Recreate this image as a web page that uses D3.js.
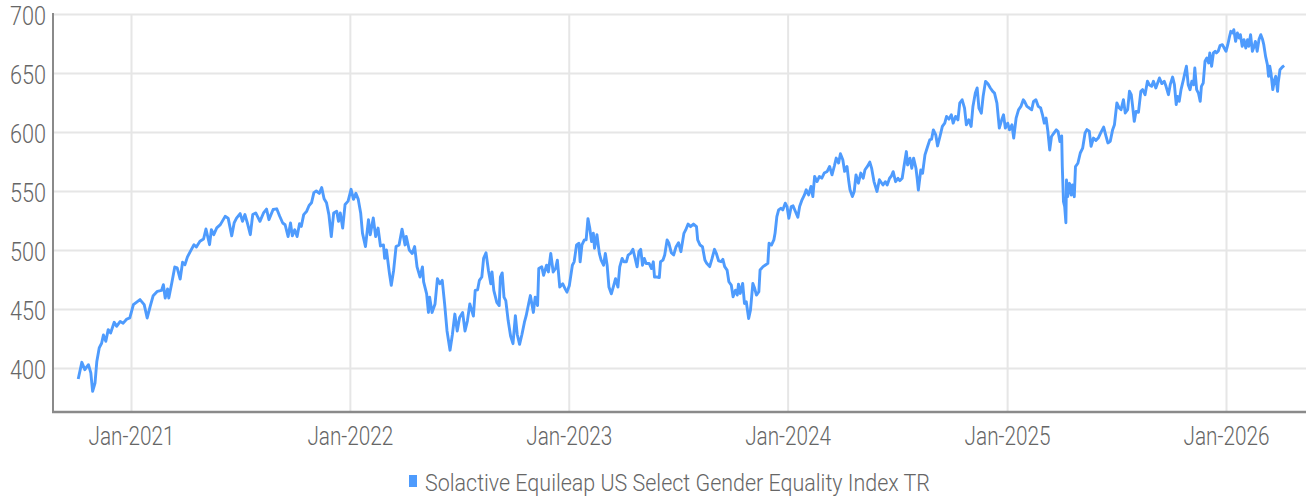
<html>
<head>
<title>Solactive Equileap US Select Gender Equality Index TR</title>
<script src="https://d3js.org/d3.v7.min.js"></script>
<style>
    body { margin: 0; background: #fff; }
    .lbl { font-family: Roboto, "DejaVu Sans", sans-serif; font-weight: 300; fill: #666; }
    .gridlines line { stroke: #e6e6e6; stroke-width: 2; }
    .gridlines .domain { stroke: none; }
</style>
</head>
<body>
<svg id="chart" width="1306" height="497"></svg>
<script>
// values, [date, index level]
const s2020 = [["2020-10-05",390.7],["2020-10-11",404.8],["2020-10-16",398.6],["2020-10-22",402.8],["2020-10-26",395.8],["2020-10-29",380.2],["2020-11-02",387.3],["2020-11-05",405.6],["2020-11-09",417],["2020-11-13",421],["2020-11-16",428],["2020-11-20",422.6],["2020-11-24",432.5],["2020-11-28",429.7],["2020-12-04",438.7],["2020-12-08",435.3],["2020-12-14",439.5],["2020-12-19",438],["2020-12-25",441.5],["2020-12-30",442.4]];

const s2021 = [["2021-01-05",453.7],["2021-01-10",455.7],["2021-01-16",458],["2021-01-23",453.7],["2021-01-28",442.4],["2021-02-02",452.3],["2021-02-07",461.3],["2021-02-14",465],["2021-02-21",465.8],["2021-02-24",470.6],["2021-02-27",459.3],["2021-03-03",467],["2021-03-05",459.3],["2021-03-10",472],["2021-03-15",485.6],["2021-03-19",484.8],["2021-03-24",475.4],["2021-03-28",489.6],["2021-04-01",487.6],["2021-04-05",494],["2021-04-10",498.9],["2021-04-16",504.5],["2021-04-20",502.5],["2021-04-26",507.4],["2021-05-02",509.3],["2021-05-06",517.8],["2021-05-12",504.5],["2021-05-15",517.2],["2021-05-19",513],["2021-05-24",518.7],["2021-05-30",521.5],["2021-06-07",528.5],["2021-06-12",527],["2021-06-18",512],["2021-06-22",522.9],["2021-06-26",527],["2021-07-02",530.8],["2021-07-06",524.3],["2021-07-10",530],["2021-07-14",523],["2021-07-19",513],["2021-07-23",530],["2021-07-28",531.4],["2021-08-04",524.3],["2021-08-10",531.4],["2021-08-15",534.7],["2021-08-19",525.7],["2021-08-26",534.3],["2021-09-01",534.9],["2021-09-06",528.6],["2021-09-11",522.9],["2021-09-15",521.4],["2021-09-20",511.4],["2021-09-24",522.9],["2021-09-27",512],["2021-10-01",517.1],["2021-10-05",511.4],["2021-10-09",522.3],["2021-10-12",520],["2021-10-16",530],["2021-10-21",532.9],["2021-10-25",537.7],["2021-10-29",540],["2021-11-02",548.6],["2021-11-06",550],["2021-11-11",548],["2021-11-15",552.9],["2021-11-19",543.4],["2021-11-23",540],["2021-11-27",530],["2021-12-01",511.4],["2021-12-05",531.4],["2021-12-10",532.9],["2021-12-13",524.3],["2021-12-16",531.4],["2021-12-20",518.6],["2021-12-24",538.6],["2021-12-29",541.4]];

const s2022 = [["2022-01-03",551.4],["2022-01-07",542.9],["2022-01-11",548],["2022-01-15",542.9],["2022-01-19",531.4],["2022-01-22",514.3],["2022-01-27",502.9],["2022-02-01",525.7],["2022-02-04",512.9],["2022-02-09",527.1],["2022-02-13",511.4],["2022-02-17",518.6],["2022-02-21",503.4],["2022-02-26",504.3],["2022-02-28",492.9],["2022-03-03",500],["2022-03-08",480],["2022-03-11",470],["2022-03-15",482.9],["2022-03-19",502.9],["2022-03-24",504.3],["2022-03-29",517.7],["2022-04-03",504.3],["2022-04-05",511.4],["2022-04-10",500],["2022-04-15",497.1],["2022-04-19",502.9],["2022-04-23",485.7],["2022-04-28",477.1],["2022-05-02",485.7],["2022-05-04",472.9],["2022-05-09",462.9],["2022-05-12",447.1],["2022-05-14",460],["2022-05-18",447.1],["2022-05-23",454.3],["2022-05-27",475.7],["2022-05-31",471.4],["2022-06-04",474.3],["2022-06-08",454.3],["2022-06-12",431.4],["2022-06-17",415.1],["2022-06-21",428.6],["2022-06-25",445.7],["2022-06-29",431.4],["2022-07-03",442.9],["2022-07-08",447.1],["2022-07-12",431.4],["2022-07-16",440],["2022-07-20",454.3],["2022-07-26",444],["2022-07-29",465.7],["2022-08-02",466.3],["2022-08-05",474.3],["2022-08-09",477.1],["2022-08-12",492.9],["2022-08-16",497.7],["2022-08-20",482.9],["2022-08-24",471.4],["2022-08-26",481.4],["2022-08-29",465.7],["2022-09-03",455.7],["2022-09-07",452.9],["2022-09-09",477.1],["2022-09-12",480.6],["2022-09-15",460],["2022-09-18",457.1],["2022-09-22",440],["2022-09-26",427.1],["2022-09-30",420.6],["2022-10-04",444.3],["2022-10-07",428.6],["2022-10-11",420],["2022-10-15",428.6],["2022-10-19",438.6],["2022-10-22",444.3],["2022-10-26",454.3],["2022-10-29",461.4],["2022-11-03",447.1],["2022-11-06",460],["2022-11-10",452.9],["2022-11-12",484.3],["2022-11-17",485.7],["2022-11-20",478.6],["2022-11-25",487.1],["2022-11-28",481.4],["2022-12-02",497.1],["2022-12-06",481.4],["2022-12-10",484.3],["2022-12-13",491.4],["2022-12-17",468.6],["2022-12-22",471.4],["2022-12-26",467.1],["2022-12-29",464.3]];

const s2023 = [["2023-01-02",470],["2023-01-07",487.1],["2023-01-10",490],["2023-01-14",504.3],["2023-01-18",505.7],["2023-01-20",490],["2023-01-23",504.3],["2023-01-27",508.6],["2023-01-30",508.6],["2023-02-02",526.6],["2023-02-05",518.6],["2023-02-08",507.1],["2023-02-11",514.3],["2023-02-13",501.4],["2023-02-17",512.9],["2023-02-21",497.1],["2023-02-24",491.4],["2023-02-28",487.1],["2023-03-03",497.1],["2023-03-06",487.1],["2023-03-09",468.6],["2023-03-13",462.9],["2023-03-17",470],["2023-03-20",475.7],["2023-03-24",468.6],["2023-03-27",485.7],["2023-03-31",492.9],["2023-04-03",490],["2023-04-07",490],["2023-04-10",495.7],["2023-04-14",497.1],["2023-04-18",500.6],["2023-04-21",494.3],["2023-04-25",485.7],["2023-04-28",498.6],["2023-05-01",500.6],["2023-05-04",487.1],["2023-05-07",492.9],["2023-05-10",488.6],["2023-05-15",488.6],["2023-05-19",484.3],["2023-05-22",490],["2023-05-24",477.1],["2023-05-28",477.1],["2023-06-01",476.6],["2023-06-03",490],["2023-06-07",491.4],["2023-06-10",495.7],["2023-06-14",508.6],["2023-06-17",505.7],["2023-06-21",497.7],["2023-06-25",495.8],["2023-06-29",502.8],["2023-07-03",506.2],["2023-07-07",498.6],["2023-07-12",514.1],["2023-07-15",517],["2023-07-19",522],["2023-07-23",519.8],["2023-07-28",522],["2023-08-02",519.8],["2023-08-04",508.5],["2023-08-08",504.2],["2023-08-12",502.8],["2023-08-16",491.5],["2023-08-19",488.7],["2023-08-24",485.9],["2023-08-28",492.9],["2023-09-01",500.6],["2023-09-04",497.2],["2023-09-08",490.7],["2023-09-12",490.1],["2023-09-15",492.1],["2023-09-18",485.9],["2023-09-22",483],["2023-09-25",473.1],["2023-09-29",470.3],["2023-10-02",460.4],["2023-10-06",466],["2023-10-09",461.8],["2023-10-11",471.1],["2023-10-14",463.2],["2023-10-18",471.7],["2023-10-21",454.7],["2023-10-24",456.1],["2023-10-28",442],["2023-10-31",449],["2023-11-04",471.7],["2023-11-07",467.5],["2023-11-10",461.8],["2023-11-14",464.6],["2023-11-16",483],["2023-11-21",485.9],["2023-11-25",487.3],["2023-11-29",488.7],["2023-12-01",505.7],["2023-12-05",504.2],["2023-12-09",508.5],["2023-12-11",514.1],["2023-12-14",528.3],["2023-12-17",534],["2023-12-21",535.4],["2023-12-24",534],["2023-12-28",539.7],["2023-12-31",536.8]];

const s2024 = [["2024-01-03",526.9],["2024-01-07",536.8],["2024-01-10",537.4],["2024-01-14",532.6],["2024-01-18",527.8],["2024-01-21",536.8],["2024-01-25",542.5],["2024-01-29",546.7],["2024-02-01",551],["2024-02-05",546.7],["2024-02-09",553.8],["2024-02-12",545.3],["2024-02-15",562.3],["2024-02-19",558],["2024-02-23",562.3],["2024-02-27",560.9],["2024-03-02",565.2],["2024-03-07",566.6],["2024-03-11",570.8],["2024-03-15",563.7],["2024-03-19",571.4],["2024-03-22",577.9],["2024-03-26",573.7],["2024-03-29",581.6],["2024-04-02",576.5],["2024-04-05",566.6],["2024-04-09",570.8],["2024-04-12",558],["2024-04-14",551],["2024-04-18",545.3],["2024-04-21",549.6],["2024-04-24",563.7],["2024-04-28",556.6],["2024-05-02",565.2],["2024-05-06",560.9],["2024-05-09",568],["2024-05-13",570.8],["2024-05-17",574.5],["2024-05-20",569.4],["2024-05-24",558],["2024-05-29",549.6],["2024-06-02",559.5],["2024-06-08",555.1],["2024-06-12",557.9],["2024-06-15",555.1],["2024-06-19",560.8],["2024-06-22",562.7],["2024-06-25",566.4],["2024-06-29",557.9],["2024-07-03",560.8],["2024-07-06",558.8],["2024-07-10",560.8],["2024-07-13",570.7],["2024-07-17",583.4],["2024-07-19",572.1],["2024-07-23",577.8],["2024-07-26",569.3],["2024-07-29",577.8],["2024-08-02",569.3],["2024-08-04",560.8],["2024-08-06",550.8],["2024-08-10",567.8],["2024-08-13",565],["2024-08-17",580.6],["2024-08-21",587.1],["2024-08-25",593.3],["2024-08-28",593.9],["2024-08-31",601.8],["2024-09-04",597.6],["2024-09-07",588.2],["2024-09-11",596.2],["2024-09-15",604.7],["2024-09-19",607.5],["2024-09-22",613.2],["2024-09-26",610.9],["2024-09-30",614.6],["2024-10-03",607.5],["2024-10-07",613.2],["2024-10-11",610.3],["2024-10-14",624.5],["2024-10-18",627.3],["2024-10-22",620.3],["2024-10-25",606.1],["2024-10-29",610.3],["2024-11-02",604.7],["2024-11-05",621.7],["2024-11-09",633],["2024-11-12",637.3],["2024-11-15",620.3],["2024-11-19",616],["2024-11-22",630.2],["2024-11-26",642.9],["2024-11-30",640.9],["2024-12-04",637.3],["2024-12-08",634.4],["2024-12-11",633],["2024-12-15",624.5],["2024-12-19",603.3],["2024-12-23",610.3],["2024-12-26",614.6],["2024-12-29",603.3]];

const s2025 = [["2025-01-02",607.5],["2025-01-05",601.8],["2025-01-09",606.1],["2025-01-12",594.8],["2025-01-16",611.8],["2025-01-20",618.8],["2025-01-24",621.7],["2025-01-28",627.3],["2025-01-30",625.9],["2025-02-03",621.7],["2025-02-07",620.3],["2025-02-11",618.8],["2025-02-14",625.9],["2025-02-18",627.3],["2025-02-22",621.7],["2025-02-26",620.3],["2025-03-01",614.6],["2025-03-04",607.5],["2025-03-07",611.8],["2025-03-10",600.4],["2025-03-13",584.8],["2025-03-16",596.2],["2025-03-20",599],["2025-03-24",601.8],["2025-03-27",600.4],["2025-03-30",591.9],["2025-04-02",596.7],["2025-04-03",570.7],["2025-04-05",540.9],["2025-04-07",536.7],["2025-04-09",523.1],["2025-04-10",559.3],["2025-04-12",545.2],["2025-04-15",556.5],["2025-04-18",546.6],["2025-04-20",555.1],["2025-04-23",545.2],["2025-04-25",570.7],["2025-04-29",573.5],["2025-05-03",582.2],["2025-05-07",586.4],["2025-05-11",599.2],["2025-05-14",602],["2025-05-18",600.6],["2025-05-21",587.9],["2025-05-25",594.9],["2025-05-29",592.9],["2025-06-02",594.9],["2025-06-06",599.2],["2025-06-11",604.2],["2025-06-15",596.3],["2025-06-18",590.7],["2025-06-22",592.1],["2025-06-26",602],["2025-06-29",606.2],["2025-07-03",624.6],["2025-07-07",620.3],["2025-07-10",618.9],["2025-07-14",627.4],["2025-07-17",616.1],["2025-07-21",618.9],["2025-07-24",634.5],["2025-07-27",631.6],["2025-07-29",623.2],["2025-08-01",609],["2025-08-04",617.5],["2025-08-08",616.7],["2025-08-12",634.5],["2025-08-15",635.9],["2025-08-19",631.6],["2025-08-23",643],["2025-08-26",640.1],["2025-08-30",638.7],["2025-09-02",643],["2025-09-06",637.3],["2025-09-09",641.5],["2025-09-12",645.8],["2025-09-16",641],["2025-09-20",643],["2025-09-23",638.7],["2025-09-27",631.6],["2025-09-30",640.1],["2025-10-04",646.6],["2025-10-07",640.1],["2025-10-10",623.2],["2025-10-12",630.2],["2025-10-15",626],["2025-10-18",635.9],["2025-10-22",644.4],["2025-10-25",651.4],["2025-10-27",655.7],["2025-10-30",640.1],["2025-11-02",635.9],["2025-11-05",643],["2025-11-08",640.1],["2025-11-10",654.2],["2025-11-13",635.9],["2025-11-16",633],["2025-11-19",626],["2025-11-21",638.7],["2025-11-24",641.5],["2025-11-27",659.9],["2025-11-30",662.7],["2025-12-03",658.5],["2025-12-05",667],["2025-12-08",655.7],["2025-12-11",667],["2025-12-14",668.4],["2025-12-16",667],["2025-12-19",668.4],["2025-12-22",673.2],["2025-12-26",674],["2025-12-29",671.2]];

const s2026 = [["2026-01-01",668.4],["2026-01-04",674],["2026-01-07",681.1],["2026-01-09",685.3],["2026-01-12",683.9],["2026-01-14",686.7],["2026-01-17",676.8],["2026-01-20",683.9],["2026-01-23",679.7],["2026-01-25",682.5],["2026-01-28",672.6],["2026-01-31",678.3],["2026-02-03",671.2],["2026-02-06",678.3],["2026-02-08",672.6],["2026-02-11",682.5],["2026-02-14",668.4],["2026-02-17",672.6],["2026-02-19",676.8],["2026-02-22",668.4],["2026-02-25",678.3],["2026-02-28",682.5],["2026-03-03",678.3],["2026-03-05",674],["2026-03-08",664.1],["2026-03-11",657.1],["2026-03-13",647.2],["2026-03-15",655.7],["2026-03-17",650],["2026-03-20",635.9],["2026-03-23",644.4],["2026-03-25",647.2],["2026-03-28",634.5],["2026-03-29",641.5],["2026-04-01",652.8],["2026-04-05",655.1],["2026-04-08",656.2]];

const yTicks = [400, 450, 500, 550, 600, 650, 700];
const xTicks = ["2021-01-01", "2022-01-01", "2023-01-01", "2024-01-01", "2025-01-01", "2026-01-01"];
const seriesName = "Solactive Equileap US Select Gender Equality Index TR";

const svg = d3.select("svg#chart");
const width = +svg.attr("width");
const plotLeft = 53, plotTop = 14, plotBottom = 412;

const parse = d3.timeParse("%Y-%m-%d");
const data = [].concat(s2020, s2021, s2022, s2023, s2024, s2025, s2026)
    .map(d => ({date: parse(d[0]), value: d[1]}));

const xScale = d3.scaleTime()
    .domain([parse("2021-01-01"), parse("2026-01-01")])
    .range([131, 1226]);
const yScale = d3.scaleLinear()
    .domain([400, 700])
    .range([368, plotTop]);

// gridlines
svg.append("g").attr("class", "gridlines")
    .attr("transform", `translate(${plotLeft},0)`)
    .call(d3.axisLeft(yScale).tickValues(yTicks).tickSize(-(width - plotLeft)).tickFormat(""));
svg.append("g").attr("class", "gridlines")
    .attr("transform", `translate(0,${plotBottom})`)
    .call(d3.axisBottom(xScale).tickValues(xTicks.map(parse)).tickSize(-(plotBottom - plotTop)).tickFormat(""));

// tick labels
let yAxis = svg.append("g")
    .attr("transform", `translate(${plotLeft},0)`)
    .call(d3.axisLeft(yScale).tickValues(yTicks).tickSize(0).tickPadding(7));
yAxis.select(".domain").remove();
yAxis.selectAll("text").attr("class", "lbl")
    .attr("font-size", 25).attr("dy", "0.42em")
    .attr("textLength", 36).attr("lengthAdjust", "spacingAndGlyphs");

let xAxis = svg.append("g")
    .attr("transform", `translate(0,${plotBottom})`)
    .call(d3.axisBottom(xScale).tickValues(xTicks.map(parse)).tickSize(0).tickPadding(15)
        .tickFormat(d3.timeFormat("%b-%Y")));
xAxis.select(".domain").remove();
xAxis.selectAll("text").attr("class", "lbl")
    .attr("font-size", 25)
    .attr("textLength", 86).attr("lengthAdjust", "spacingAndGlyphs");

// axis lines
svg.append("line")
    .attr("x1", plotLeft).attr("x2", plotLeft).attr("y1", plotTop - 1).attr("y2", plotBottom + 1)
    .attr("stroke", "#8a8a8a").attr("stroke-width", 2);
svg.append("line")
    .attr("x1", plotLeft - 1).attr("x2", width).attr("y1", plotBottom).attr("y2", plotBottom)
    .attr("stroke", "#8a8a8a").attr("stroke-width", 2.5);

// series
const line = d3.line()
    .x(d => xScale(d.date))
    .y(d => yScale(d.value));
svg.append("path").datum(data)
    .attr("d", line)
    .attr("fill", "none")
    .attr("stroke", "#4e9bfd")
    .attr("stroke-width", 2.9)
    .attr("stroke-linejoin", "round");

// legend
svg.append("rect")
    .attr("x", 409).attr("y", 475).attr("width", 8).attr("height", 12)
    .attr("fill", "#4e9bfd");
svg.append("text").attr("class", "lbl")
    .attr("x", 425).attr("y", 491)
    .attr("font-size", 23)
    .attr("textLength", 505).attr("lengthAdjust", "spacingAndGlyphs")
    .text(seriesName);
</script>
</body>
</html>
